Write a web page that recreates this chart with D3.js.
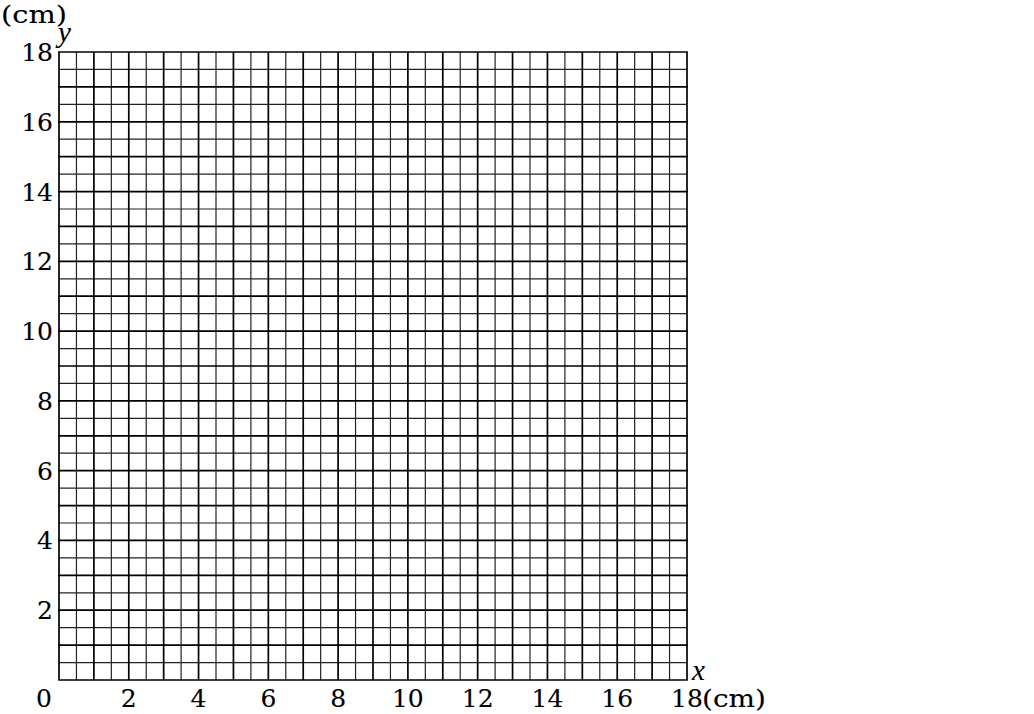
<!DOCTYPE html>
<html><head><meta charset="utf-8">
<script src="https://cdn.jsdelivr.net/npm/d3@7"></script>
<style>body{margin:0;background:#fff}svg{display:block}text{font-family:"DejaVu Serif",serif;fill:#000;stroke:#000;stroke-width:0.12px}</style>
</head><body>
<script>
const xTicks = [0,2,4,6,8,10,12,14,16,18];
const yTicks = [2,4,6,8,10,12,14,16,18];
const gridMajor = d3.range(0,19,1);
const gridMinor = d3.range(0.5,18,1);
const unitLabel = "(cm)";
const xName = "x", yName = "y";

const W=1034,H=714;
const svg=d3.select("body").append("svg").attr("width",W).attr("height",H);
const x=d3.scaleLinear().domain([0,18]).range([59,687]);
const y=d3.scaleLinear().domain([0,18]).range([680,52]);

const g=svg.append("g");
// minor lines
g.selectAll(".vmin").data(gridMinor).join("line")
 .attr("x1",d=>x(d)).attr("x2",d=>x(d)).attr("y1",y(0)).attr("y2",y(18))
 .attr("stroke","#222").attr("stroke-width",1.2);
g.selectAll(".hmin").data(gridMinor).join("line")
 .attr("y1",d=>y(d)).attr("y2",d=>y(d)).attr("x1",x(0)).attr("x2",x(18))
 .attr("stroke","#222").attr("stroke-width",1.2);
// major lines
g.selectAll(".vmaj").data(gridMajor).join("line")
 .attr("x1",d=>x(d)).attr("x2",d=>x(d)).attr("y1",y(0)).attr("y2",y(18))
 .attr("stroke","#000").attr("stroke-width",1.7);
g.selectAll(".hmaj").data(gridMajor).join("line")
 .attr("y1",d=>y(d)).attr("y2",d=>y(d)).attr("x1",x(0)-0.85).attr("x2",x(18)+0.85)
 .attr("stroke","#000").attr("stroke-width",1.7);

const fs=25, xBase=707;
// x tick labels
svg.selectAll(".xt").data(xTicks).join("text")
 .attr("x",d=>d===0?x(d)-15:x(d)).attr("y",xBase)
 .attr("text-anchor","middle").attr("font-size",fs).text(d=>d);
// y tick labels
svg.selectAll(".yt").data(yTicks).join("text")
 .attr("x",53).attr("y",d=>y(d)+9)
 .attr("text-anchor","end").attr("font-size",fs).text(d=>d);
// units
svg.append("text").attr("x",x(18)+15).attr("y",xBase).attr("font-size",fs)
 .attr("textLength",64).attr("lengthAdjust","spacingAndGlyphs").text(unitLabel);
svg.append("text").attr("x",1).attr("y",23).attr("font-size",24)
 .attr("textLength",66).attr("lengthAdjust","spacingAndGlyphs").text(unitLabel);
// axis names
svg.append("text").attr("x",x(18)+5).attr("y",y(0)).attr("font-size",29)
 .style("font-family","'Liberation Serif',serif").attr("font-style","italic").text(xName);
svg.append("text").attr("x",x(0)-1).attr("y",y(18)-10).attr("font-size",29)
 .style("font-family","'Liberation Serif',serif").attr("font-style","italic").text(yName);
</script>
</body></html>
